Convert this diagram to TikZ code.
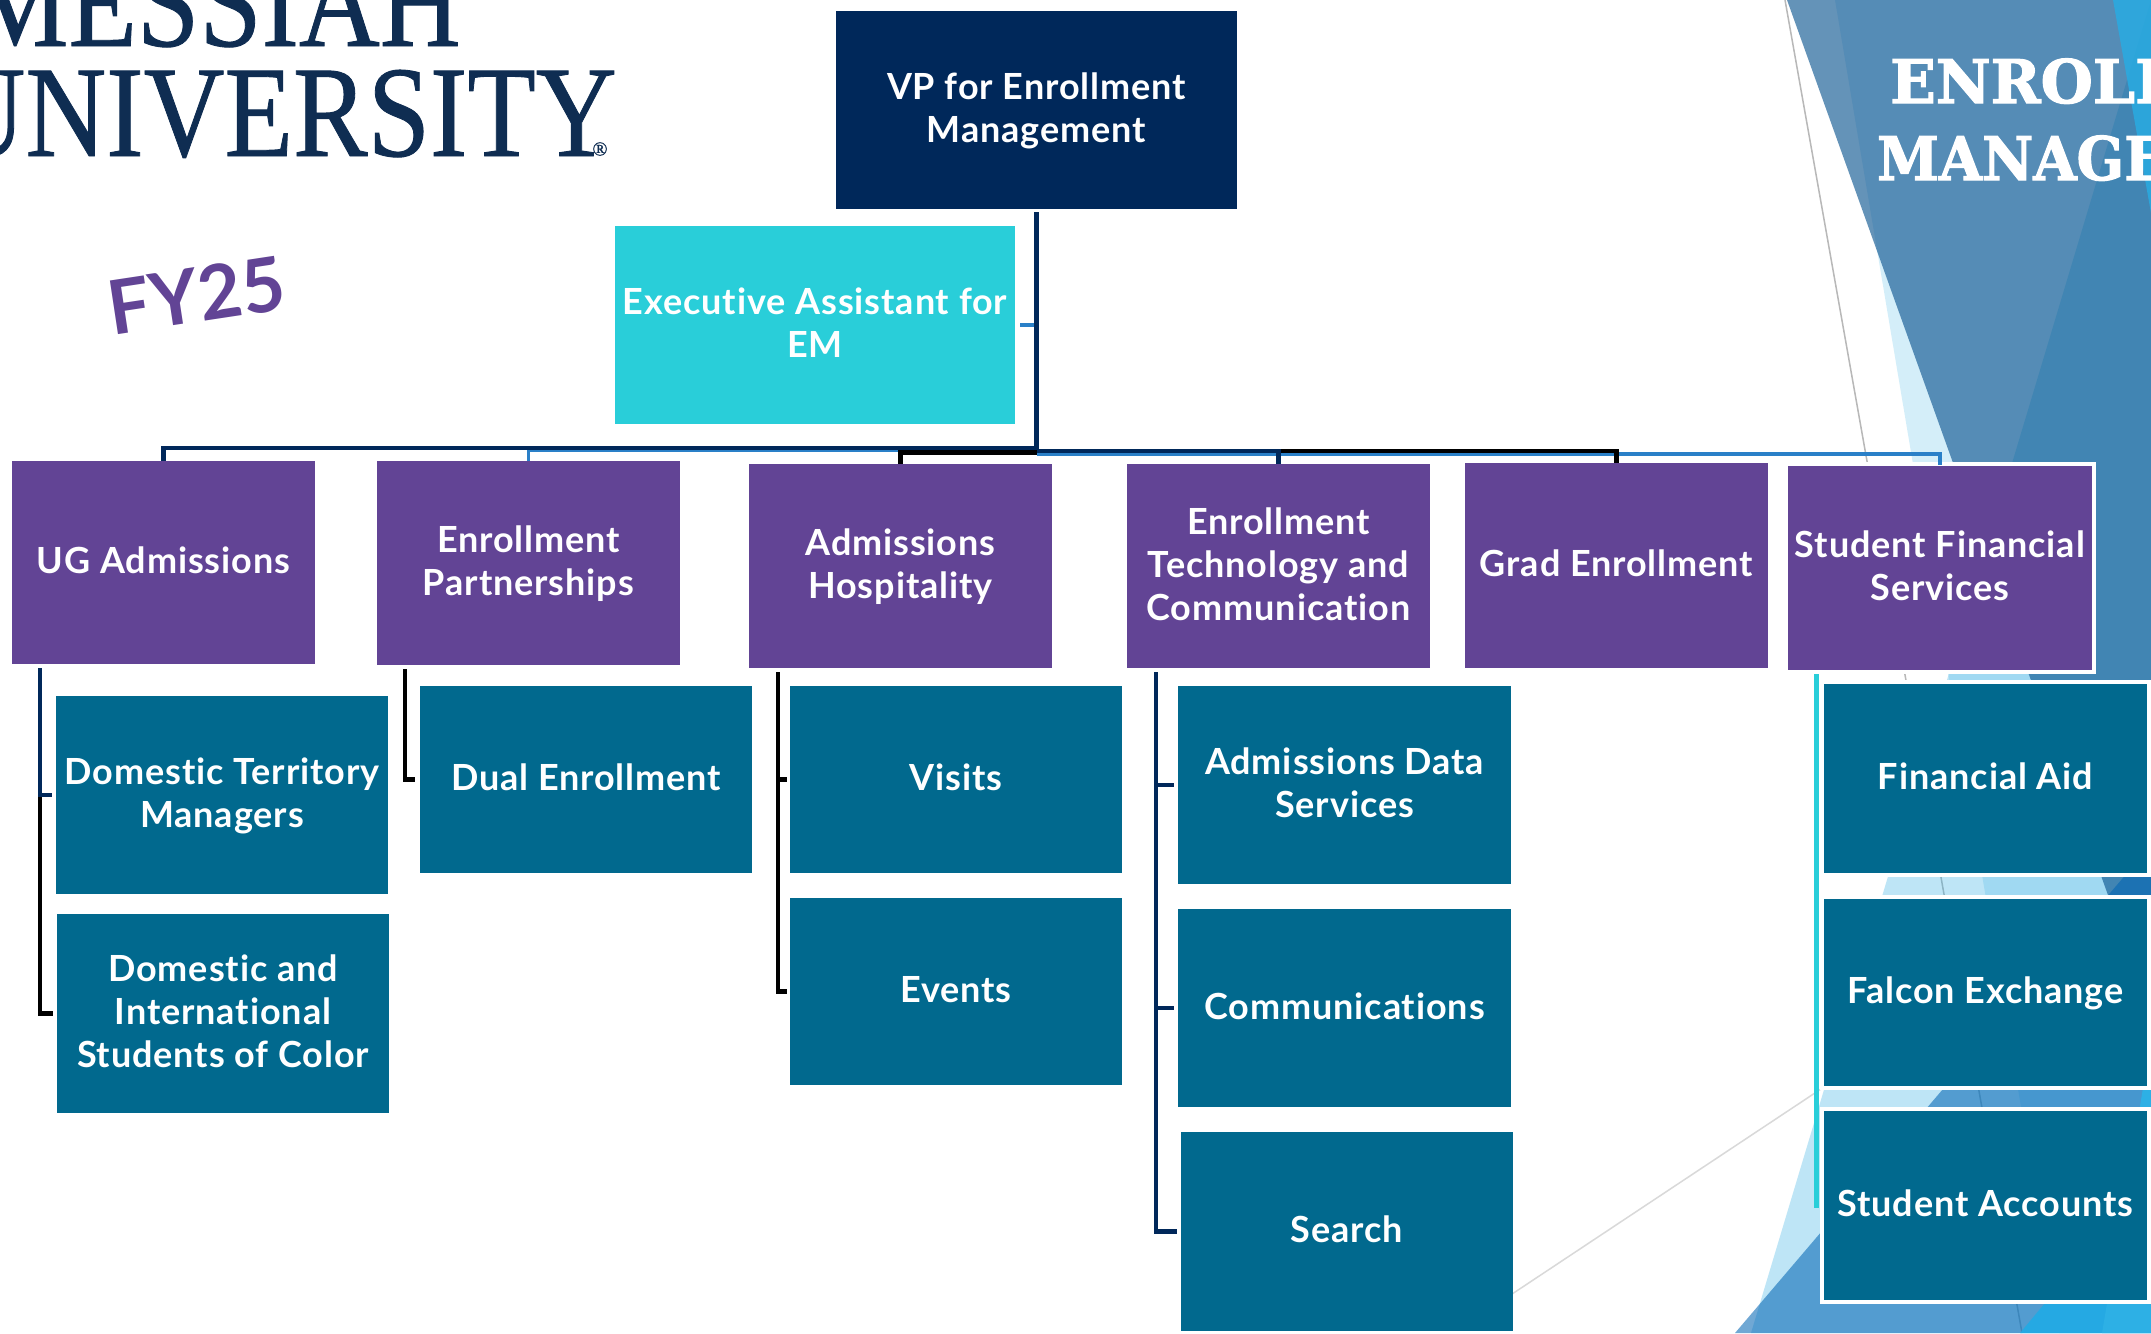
\documentclass[tikz,border=0pt]{standalone}
\usepackage{fontspec}
\setmainfont[Ligatures=NoCommon,LetterSpace=2.5]{Lato}
\newfontfamily\fyfont[Ligatures=NoCommon]{Lato}
\newfontfamily\logofont[FakeBold=0.7]{Liberation Serif}
\newfontfamily\slabfont[BoldFeatures={FakeBold=2}]{DejaVu Serif}
\usetikzlibrary{calc}
\definecolor{purp}{HTML}{624495}
\definecolor{teal2}{HTML}{01698E}
\definecolor{navy2}{HTML}{00285A}
\definecolor{cyan2}{HTML}{29CED9}
\definecolor{blue2}{HTML}{2A80C8}
\definecolor{logoc}{HTML}{0F2D52}
\definecolor{facetA}{HTML}{29ABE2}
\definecolor{facetB}{HTML}{0B548F}
\definecolor{facetC}{HTML}{0064B4}
\definecolor{facetD}{HTML}{25A9E3}
\definecolor{facetE}{HTML}{2DB0E5}
\newcommand{\boxfont}{\bfseries\fontsize{36}{43}\selectfont}
\newcommand{\up}{\rule{0pt}{32pt}}
\tikzset{
  box/.style={rectangle,inner sep=0pt,outer sep=0pt,align=center,text=white,font=\boxfont,
    execute at begin node={\rule{0pt}{32pt}},
    execute at end node={\rule[-10pt]{0pt}{10pt}}},
  vpbox/.style={box,fill=navy2},
  eabox/.style={box,fill=cyan2},
  deptbox/.style={box,fill=purp},
  subbox/.style={box,fill=teal2},
  framed/.style={draw=white,line width=4pt},
  link/.style={line width=4.5pt,line cap=butt,line join=miter},
  facetline/.style={line width=1.5pt},
  logotext/.style={inner sep=0pt,anchor=base east,text=logoc,xscale=.862,transform shape,font=\logofont\fontsize{130}{130}\selectfont},
  titletext/.style={inner sep=0pt,anchor=base west,text=white,transform shape,font=\slabfont\bfseries\fontsize{60}{60}\selectfont}
}
\begin{document}
\begin{tikzpicture}[x=1pt,y=-1pt]
\path[use as bounding box,clip] (0,0) rectangle (2151,1333);
\fill[white] (0,0) rectangle (2151,1333);
% background facets
\draw[facetline,black!28] (1785,0) -- (2022,1333);
\draw[facetline,black!15] (1500,1302) -- (1830,1083);
\fill[facetA,opacity=.2] (1835,0) -- (2059,1333) -- (2151,1333) -- (2151,0) -- cycle;
\fill[facetA,opacity=.3] (2151,0) -- (1751,1333) -- (2151,1333) -- cycle;
\fill[facetB,opacity=.63] (1787,0) -- (2265,1333) -- (2400,1333) -- (2400,0) -- cycle;
\fill[facetC,opacity=.56] (1735,1333) -- (2151,845) -- (2151,1333) -- cycle;
\fill[facetA,opacity=.85] (2113,0) -- (2151,213) -- (2151,0) -- cycle;
\fill[facetD] (2020,1333) -- (2151,1176) -- (2151,1333) -- cycle;
\fill[facetE] (2102,1333) -- (2151,1040) -- (2151,1333) -- cycle;
% logo
\node[logotext] (logoa) at (461,46) {MESSIAH};
\node[logotext] (logob) at (617,156) {UNIVERSITY};
\node[inner sep=0pt,text=logoc,font=\logofont\fontsize{20}{20}\selectfont] (logor) at (600,149) {®};
\node[inner sep=0pt,text=purp,rotate=8.6,font=\fyfont\bfseries\fontsize{75}{75}\selectfont] (fy) at (196,295) {FY25};
% title
\node[titletext] (ta) at (1890,103) {ENROLL};
\node[titletext,xscale=.93] (tb) at (1877,180) {MANAGE};
% nodes
\node[vpbox,minimum width=401pt,minimum height=198pt] (vp) at (1036.5,110) {\up VP for Enrollment\\Management};
\node[eabox,minimum width=400pt,minimum height=198pt] (ea) at (815,325) {\up Executive Assistant for\\EM};
\node[deptbox,minimum width=303pt,minimum height=203pt] (ug) at (163.5,562.5) {UG Admissions};
\node[deptbox,minimum width=303pt,minimum height=204pt] (ep) at (528.5,563) {\up Enrollment\\Partnerships};
\node[deptbox,minimum width=303pt,minimum height=204pt] (ah) at (900.5,566) {\up Admissions\\Hospitality};
\node[deptbox,minimum width=303pt,minimum height=204pt] (et) at (1278.5,566) {\up Enrollment\\Technology and\\Communication};
\node[deptbox,minimum width=303pt,minimum height=205pt] (gr) at (1616.5,565.5) {Grad Enrollment};
\node[deptbox,framed,minimum width=308pt,minimum height=208pt] (sf) at (1940,568) {\up Student Financial\\Services};
\node[subbox,minimum width=332pt,minimum height=198pt] (dt) at (222,795) {\up Domestic Territory\\Managers};
\node[subbox,minimum width=332pt,minimum height=199pt] (di) at (223,1013.5) {\up Domestic and\\International\\Students of Color};
\node[subbox,minimum width=332pt,minimum height=187pt] (du) at (586,779.5) {Dual Enrollment};
\node[subbox,minimum width=332pt,minimum height=187pt] (vi) at (956,779.5) {Visits};
\node[subbox,minimum width=332pt,minimum height=187pt] (ev) at (956,991.5) {Events};
\node[subbox,minimum width=333pt,minimum height=198pt] (ad) at (1344.5,785) {\up Admissions Data\\Services};
\node[subbox,minimum width=333pt,minimum height=198pt] (co) at (1344.5,1008) {Communications};
\node[subbox,minimum width=332pt,minimum height=199pt] (se) at (1347,1231.5) {Search};
\node[subbox,framed,minimum width=327pt,minimum height=193pt] (fa) at (1985.5,778.5) {Financial Aid};
\node[subbox,framed,minimum width=327pt,minimum height=191pt] (fx) at (1985.5,992.5) {Falcon Exchange};
\node[subbox,framed,minimum width=327pt,minimum height=193pt] (sa) at (1985.5,1205.5) {Student Accounts};
% bus levels and stem tops
\coordinate (busa) at (0,450.5);
\coordinate (busb) at (0,448);
\coordinate (busc) at (0,452.5);
\coordinate (busd) at (0,454);
\coordinate (buse) at (0,451);
\coordinate (ugs) at (40,668);
\coordinate (eps) at (405,669);
\coordinate (ahs) at (778,672);
\coordinate (ets) at (1156,672);
\coordinate (sfs) at (1816,674);
% top-level connectors
\draw[link,blue2] (ea.east) ++(5,0) -- (ea.east -| vp.south);
\draw[link,line width=3pt,blue2] (vp.south |- busa) -| (ep.north);
\draw[link,blue2] (vp.south |- busd) -| ([yshift=-1pt]sf.north);
\draw[link,black] (vp.south |- busc) -| (ah.north);
\draw[link,black] (et.north |- buse) -| (gr.north);
\draw[link,navy2] (vp.south |- buse) -| (et.north);
\draw[link,navy2,shorten <=3pt] (vp.south) -- (vp.south |- busb) -| (ug.north);
% child connectors
\draw[link,black,shorten >=4pt] (ugs |- dt.west) |- (di.west);
\draw[link,navy2,shorten >=4pt] (ugs) |- (dt.west);
\draw[link,black,shorten >=5pt] (eps) |- (du.west);
\draw[link,black,shorten >=3pt] (ahs) |- (vi.west);
\draw[link,black,shorten >=3pt] (ahs) |- (ev.west);
\draw[link,navy2,shorten >=4pt] (ets) |- (ad.west);
\draw[link,navy2,shorten >=4pt] (ets) |- (co.west);
\draw[link,navy2,shorten >=4pt] (ets) |- (se.west);
\draw[link,line width=5pt,cyan2,shorten >=3pt] (sfs) |- (fa.west);
\draw[link,line width=5pt,cyan2,shorten >=3pt] (sfs) |- (fx.west);
\draw[link,line width=5pt,cyan2,shorten >=3pt] (sfs) |- (sa.west);
\end{tikzpicture}
\end{document}
